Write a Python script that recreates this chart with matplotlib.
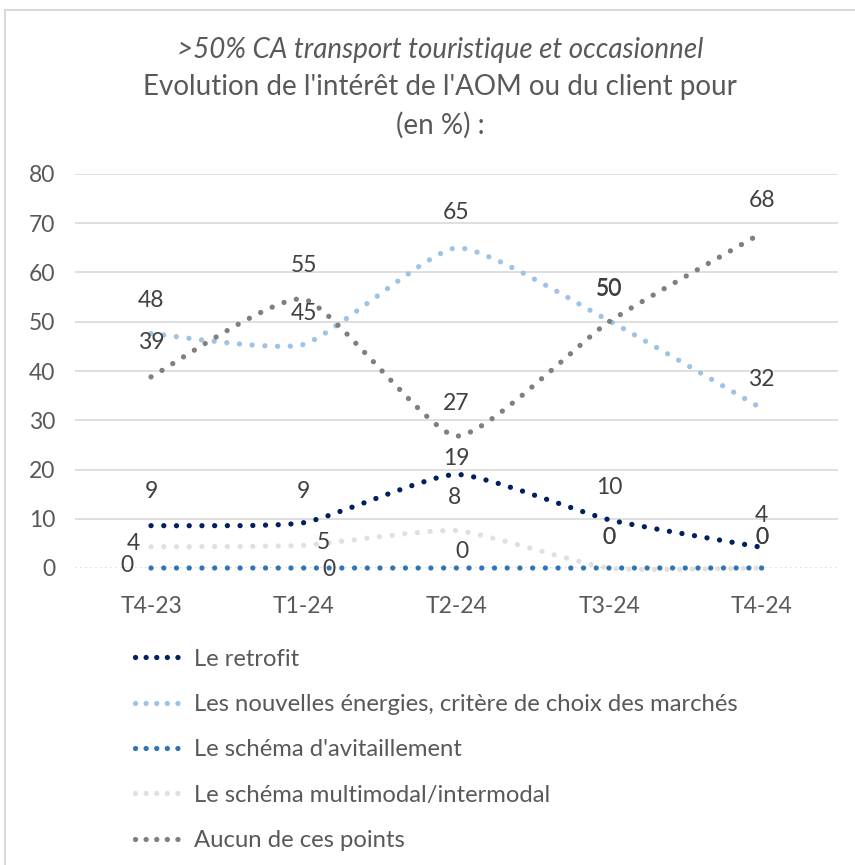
import matplotlib
matplotlib.use('Agg')
import matplotlib.pyplot as plt
from matplotlib.path import Path
from matplotlib.patches import PathPatch, Rectangle
from matplotlib.lines import Line2D

# données (en %)
trimestres = ['T4-23', 'T1-24', 'T2-24', 'T3-24', 'T4-24']
retrofit = [8.6, 9.2, 19.0, 9.8, 4.2]
nouvelles_energies = [47.6, 45.4, 65.0, 50.2, 32.4]
avitaillement = [0, 0, 0, 0, 0]
multimodal = [4.3, 4.6, 7.6, 0, 0]
aucun = [38.8, 54.6, 26.8, 50.0, 68.0]

noms = ['Le retrofit',
        'Les nouvelles énergies, critère de choix des marchés',
        "Le schéma d'avitaillement",
        'Le schéma multimodal/intermodal',
        'Aucun de ces points']
series = [retrofit, nouvelles_energies, avitaillement, multimodal, aucun]
couleurs = ['#002060', '#9dc3e6', '#2e75b6', '#e0e0e0', '#7f7f7f']

# décalage des étiquettes (pixels), comme dans le graphique Excel
decalages = [
    [(0, 34), (0, 31), (0, 16), (0, 32), (0, 32)],
    [(0, 33), (0, 31), (0, 35), (0, 32), (0, 29)],
    [(-24, 2), (25, -1), (6, 16), (0, 31), (0, 31)],
    [(-18, 3), (20, 3), (-2, 33), (0, 31), (0, 31)],
    [(0, 34), (0, 34), (0, 33), (0, 32), (0, 33)],
]

plt.rcParams['font.family'] = ['Lato', 'DejaVu Sans']
GRIS = '#595959'
TENSION = 0.09


def courbe_lissee(xs, ys):
    # courbe lissée façon Excel (Bézier, tension faible)
    pts = list(zip(xs, ys))
    n = len(pts)
    verts = [pts[0]]
    codes = [Path.MOVETO]
    for i in range(n - 1):
        p0 = pts[i - 1] if i > 0 else pts[i]
        p1 = pts[i]
        p2 = pts[i + 1]
        p3 = pts[i + 2] if i + 2 < n else pts[i + 1]
        c1 = (p1[0] + (p2[0] - p0[0]) * TENSION, p1[1] + (p2[1] - p0[1]) * TENSION)
        c2 = (p2[0] - (p3[0] - p1[0]) * TENSION, p2[1] - (p3[1] - p1[1]) * TENSION)
        verts += [c1, c2, p2]
        codes += [Path.CURVE4] * 3
    return Path(verts, codes)


fig = plt.figure(figsize=(8.55, 8.65), dpi=100)
ax = fig.add_axes([74.7 / 855, 1 - 568 / 865, (838 - 74.7) / 855, (568 - 174) / 865])

x = list(range(len(trimestres)))
for vals, nom, c, dec in zip(series, noms, couleurs, decalages):
    patch = PathPatch(courbe_lissee(x, vals), fill=False, edgecolor=c, lw=3.8,
                      linestyle=(0, (0.01, 2.4)), capstyle='round', clip_on=False)
    ax.add_patch(patch)
    for xi, v, d in zip(x, vals, dec):
        ax.annotate(f'{v:.0f}', (xi, v), xytext=d, textcoords='offset pixels',
                    ha='center', va='center', fontsize=16.5, color='#404040')

ax.set_xlim(-0.5, len(trimestres) - 0.5)
ax.set_ylim(0, 80)
ax.set_yticks(range(0, 81, 10))
ax.set_xticks(x)
ax.set_xticklabels(trimestres)
ax.tick_params(length=0, labelsize=16.5, labelcolor=GRIS)
ax.tick_params(axis='y', pad=14)
ax.tick_params(axis='x', pad=20)
ax.grid(axis='y', color='#d9d9d9', lw=1.2)
ax.get_ygridlines()[0].set_linestyle((0, (1, 2)))
ax.set_axisbelow(True)
for s in ax.spines.values():
    s.set_visible(False)

fig.text(440 / 855, 1 - 50 / 865, '>50% CA transport touristique et occasionnel',
         ha='center', va='center', fontsize=20, style='italic', color=GRIS)
fig.text(440 / 855, 1 - 87 / 865, "Evolution de l'intérêt de l'AOM ou du client pour",
         ha='center', va='center', fontsize=20, color=GRIS)
fig.text(440 / 855, 1 - 125 / 865, '(en %) :', ha='center', va='center', fontsize=20, color=GRIS)

handles = [Line2D([], [], color=c, lw=3.8, linestyle=(0, (0.01, 2.0)),
                  dash_capstyle='round') for c in couleurs]
fig.legend(handles, noms, loc='upper left', bbox_to_anchor=(113 / 855, 1 - 627 / 865),
           frameon=False, fontsize=17.2, labelcolor=GRIS, handlelength=2.2,
           handletextpad=0.3, labelspacing=1.02)

fig.add_artist(Rectangle((5 / 855, -0.01), 1, 1.01 - 10 / 865, transform=fig.transFigure,
                         fill=False, edgecolor='#d9d9d9', lw=1.5))

fig.savefig('out.png', dpi=100)
